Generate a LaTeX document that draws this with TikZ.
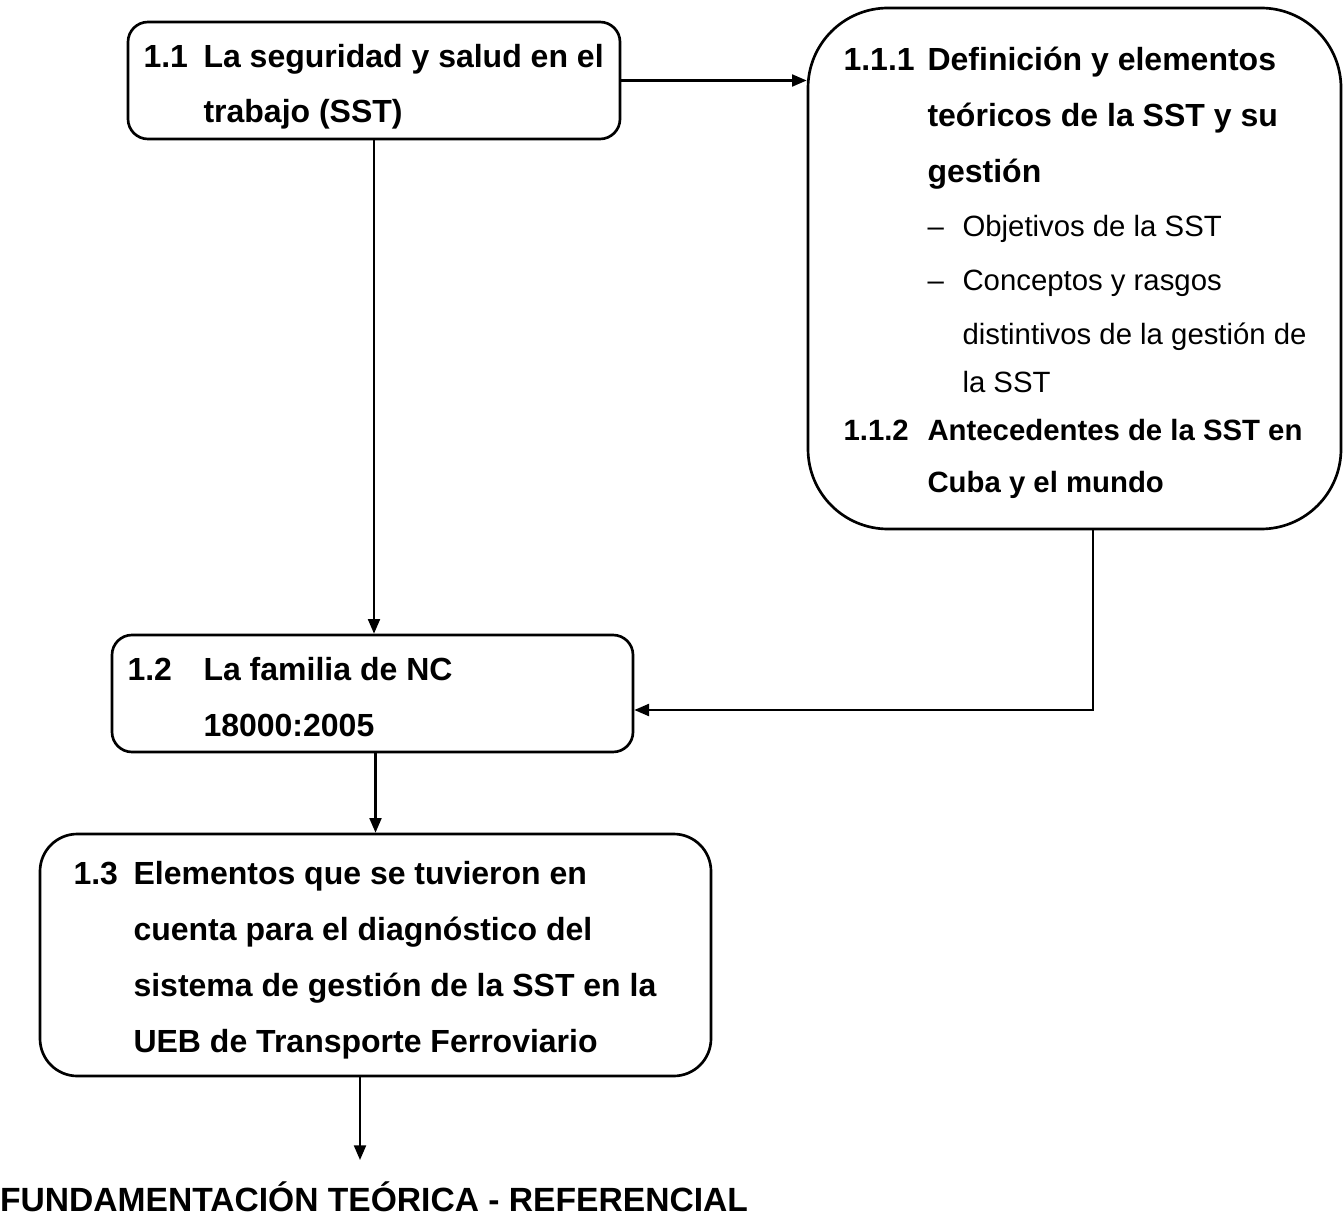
\documentclass[tikz,border=0pt]{standalone}
\usepackage{fontspec}
\setmainfont{Liberation Sans}
\usepackage{tikz}
\usetikzlibrary{arrows.meta,fit}

\tikzset{
  box/.style={draw,line width=1pt,inner sep=0pt},
  num/.style={anchor=base west,inner sep=0pt,font=\fontsize{12}{14}\selectfont\bfseries},
  txt/.style={anchor=base west,inner sep=0pt,font=\fontsize{12}{14}\selectfont\bfseries},
  txtsm/.style={anchor=base west,inner sep=0pt,font=\fontsize{11}{13}\selectfont\bfseries},
  sub/.style={anchor=base west,inner sep=0pt,font=\fontsize{11}{13}\selectfont},
  ttl/.style={anchor=base,inner sep=0pt,font=\fontsize{12.6}{15}\selectfont\bfseries},
  arr/.style={line width=0.8pt,-{Triangle[length=5.5pt,width=4.5pt]}}
}

\begin{document}
\begin{tikzpicture}[x=0.375pt,y=-0.375pt]
\useasboundingbox (0,0) rectangle (1343,1215);

% 1.1 box
\node[box,rounded corners=7.5pt,fit={(128,22) (620,139)}] (b11) {};
\node[num] (n11) at (143,68) {1.1};
\node[txt] (t11a) at (203,68) {La seguridad y salud en el};
\node[txt] (t11b) at (203,123) {trabajo (SST)};

% 1.1.1 / 1.1.2 box
\node[box,rounded corners=30pt,fit={(808,8) (1341,529)}] (b111) {};
\node[num] (n111) at (843,71) {1.1.1};
\node[txt] (t111a) at (927,71) {Definición y elementos};
\node[txt] (t111b) at (927,127) {teóricos de la SST y su};
\node[txt] (t111c) at (927,183) {gestión};
\node[sub] (d1) at (927,237) {–};
\node[sub] (s1) at (962,237) {Objetivos de la SST};
\node[sub] (d2) at (927,291) {–};
\node[sub] (s2a) at (962,291) {Conceptos y rasgos};
\node[sub] (s2b) at (962,345) {distintivos de la gestión de};
\node[sub] (s2c) at (962,393) {la SST};
\node[txtsm] (n112) at (843,440) {1.1.2};
\node[txtsm] (t112a) at (927,440) {Antecedentes de la SST en};
\node[txtsm] (t112b) at (927,492) {Cuba y el mundo};

% 1.2 box
\node[box,rounded corners=7.5pt,fit={(112,635) (633,752)}] (b12) {};
\node[num] (n12) at (127,680) {1.2};
\node[txt] (t12a) at (203,680) {La familia de NC};
\node[txt] (t12b) at (203,736) {18000:2005};

% 1.3 box
\node[box,rounded corners=14pt,fit={(40,834) (711,1076)}] (b13) {};
\node[num] (n13) at (73,884) {1.3};
\node[txt] (t13a) at (133,884) {Elementos que se tuvieron en};
\node[txt] (t13b) at (133,940) {cuenta para el diagnóstico del};
\node[txt] (t13c) at (133,996) {sistema de gestión de la SST en la};
\node[txt] (t13d) at (133,1052) {UEB de Transporte Ferroviario};

% Title
\node[ttl] (ft) at (374,1211) {FUNDAMENTACIÓN TEÓRICA - REFERENCIAL};

% Connectors
\coordinate (k1) at (1093,710);
\coordinate (k2) at (360,1160);
\draw[arr] (b11.east) -- (b11.east -| b111.west);
\draw[arr] (b11.south) -- (b11.south |- b12.north);
\draw[arr] (b111.south -| k1) -- (k1) -- (k1 -| b12.east);
\draw[arr] (b13.north |- b12.south) -- (b13.north);
\draw[arr] (b13.south -| k2) -- (k2);
\end{tikzpicture}
\end{document}
